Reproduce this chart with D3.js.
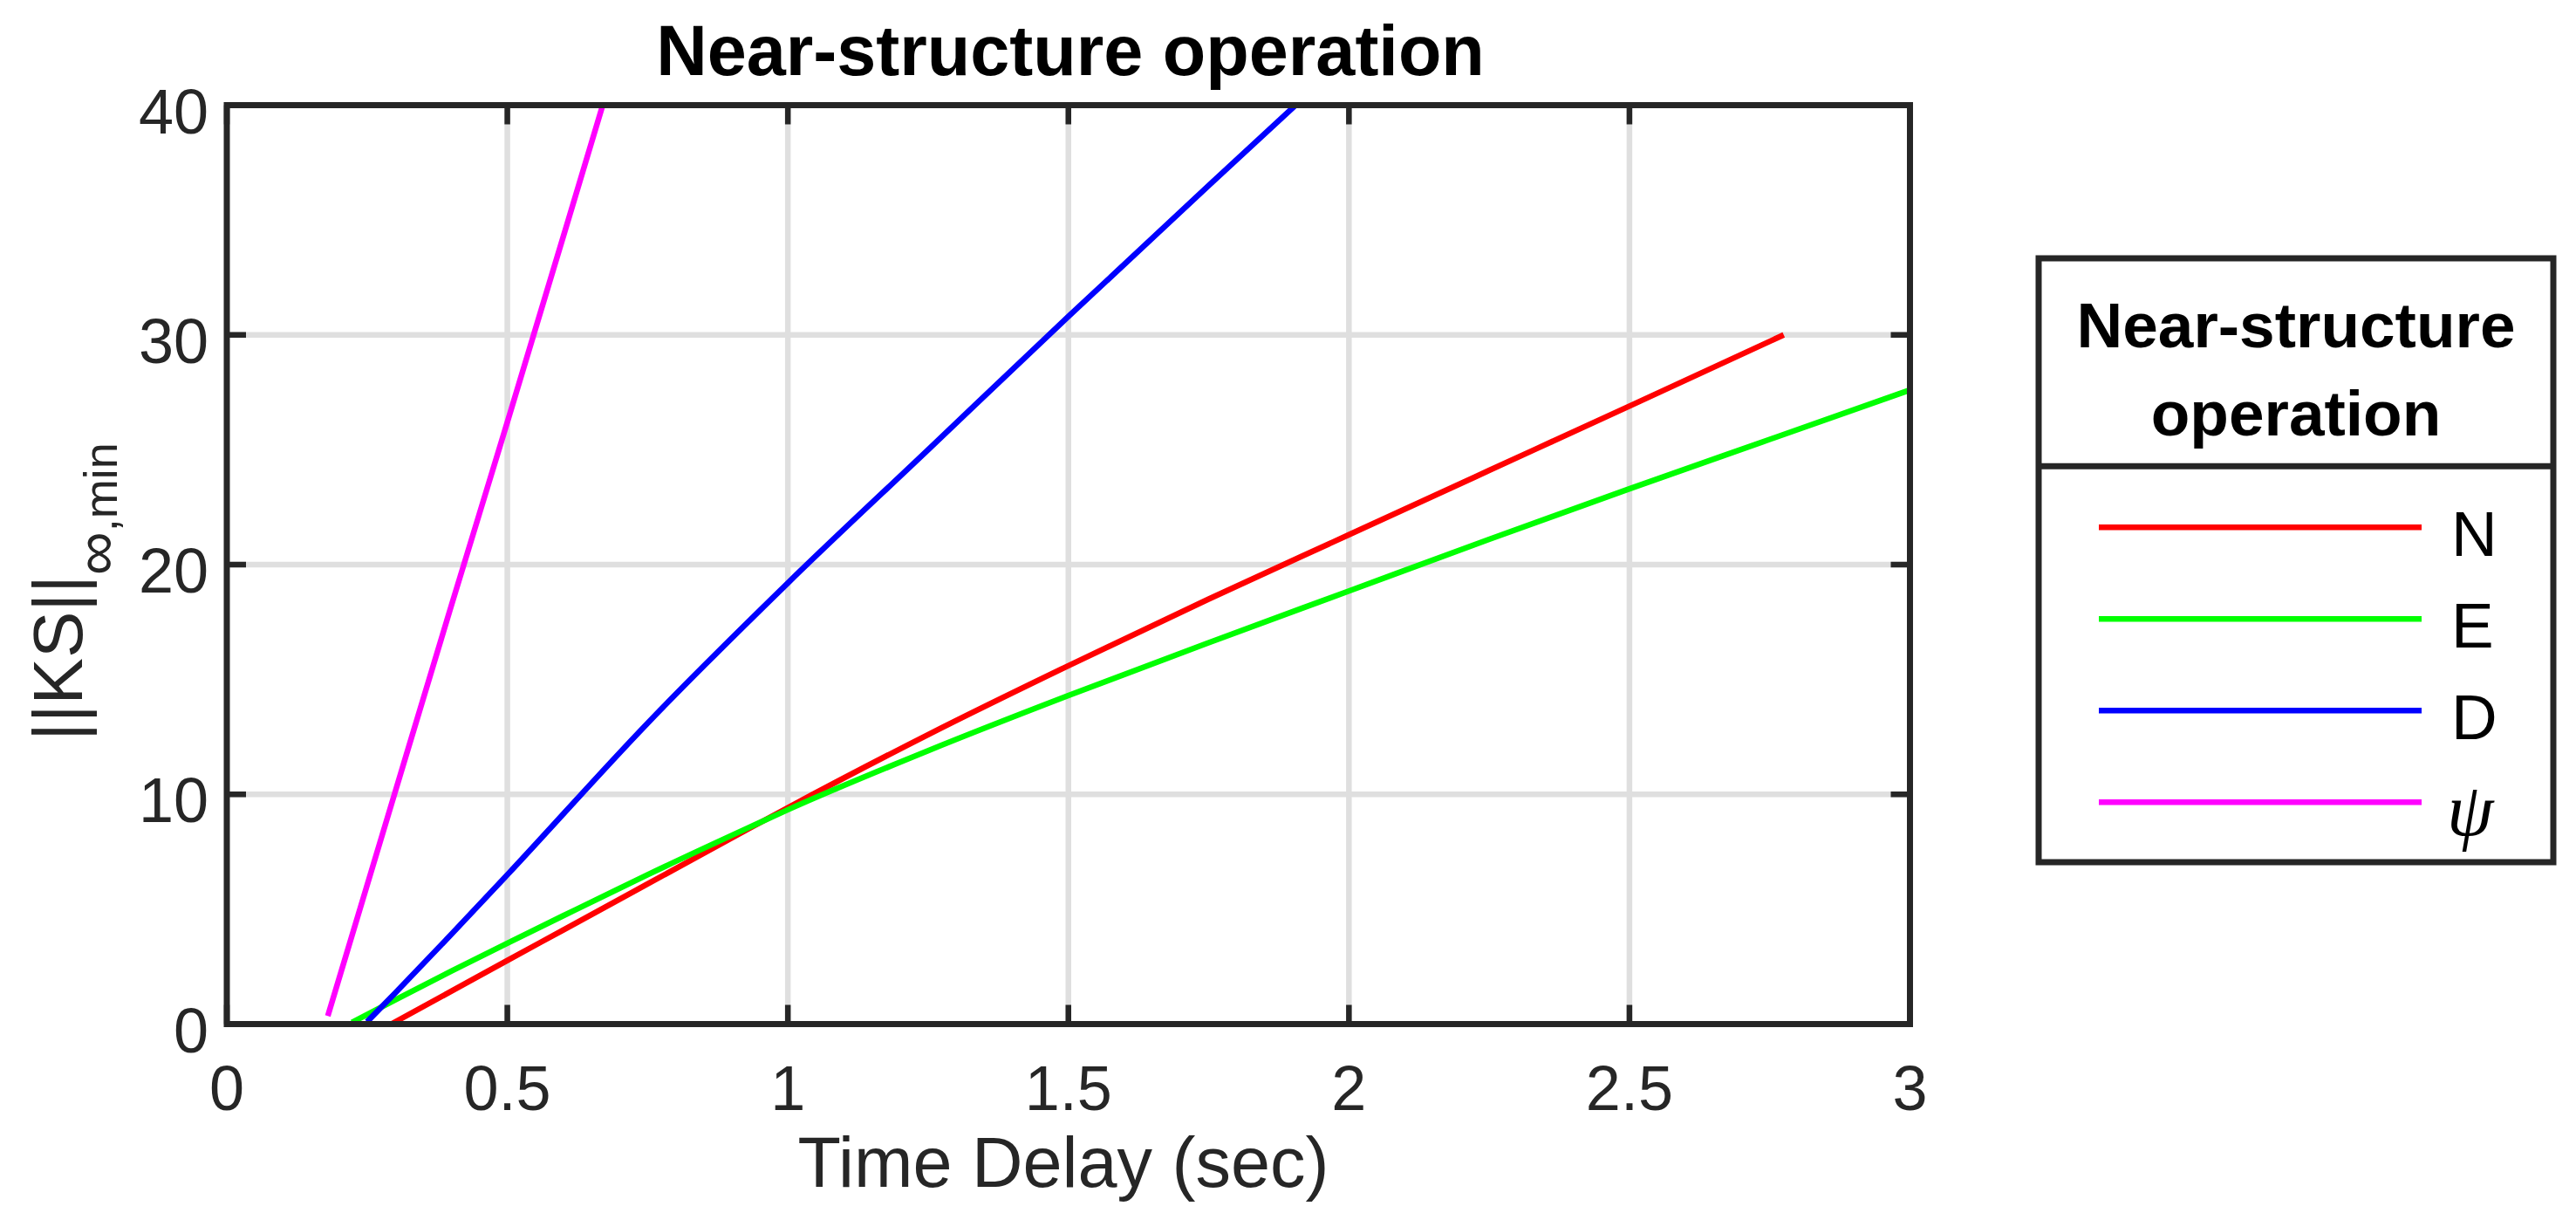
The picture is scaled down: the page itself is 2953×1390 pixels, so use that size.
<!DOCTYPE html>
<html><head><meta charset="utf-8">
<script src="https://cdn.jsdelivr.net/npm/d3@7"></script>
<style>body{margin:0;background:#fff}svg{display:block}</style>
</head><body>
<svg id="chart" width="2953" height="1390"></svg>
<script>
// ---- data ----
const xTicks = [0, 0.5, 1, 1.5, 2, 2.5, 3];
const xTickLabels = ["0", "0.5", "1", "1.5", "2", "2.5", "3"];
const yTicks = [0, 10, 20, 30, 40];
const yTickLabels = ["0", "10", "20", "30", "40"];
const seriesNames = ["N", "E", "D", "ψ"];
const seriesColors = ["#ff0000", "#00ff00", "#0000ff", "#ff00ff"];

const nTime  = [0.293, 0.4, 0.5, 0.6, 0.75, 0.93, 1.0, 1.25, 1.5, 1.75, 2.0, 2.25, 2.5, 2.775];
const nValue = [0.0, 1.43, 2.77, 4.1, 6.1, 8.5, 9.42, 12.6, 15.6, 18.5, 21.3, 24.1, 26.9, 30.0];

const eTime  = [0.223, 0.3, 0.4, 0.5, 0.6, 0.75, 0.93, 1.0, 1.25, 1.5, 1.75, 2.0, 2.25, 2.5, 2.75, 3.0];
const eValue = [0.07, 1.05, 2.3, 3.52, 4.72, 6.5, 8.55, 9.33, 11.9, 14.3, 16.6, 18.85, 21.1, 23.3, 25.45, 27.6];

const dTime  = [0.25, 0.3, 0.4, 0.5, 0.75, 1.0, 1.25, 1.5, 1.75, 1.905];
const dValue = [0.1, 1.35, 3.9, 6.5, 13.1, 19.2, 25.0, 30.8, 36.5, 40.0];

const psiTime  = [0.18, 0.3, 0.4, 0.5, 0.6, 0.67];
const psiValue = [0.35, 10.1, 18.2, 26.2, 34.3, 40.0];

const titleText = "Near-structure operation";
const xLabelText = "Time Delay (sec)";
const legendTitleLines = ["Near-structure", "operation"];

// ---- layout ----
const svg = d3.select("#chart");
const L = 260, R = 2189.5, T = 120.5, B = 1173.5;
const x = d3.scaleLinear().domain([0, 3]).range([L, R]);
const y = d3.scaleLinear().domain([0, 40]).range([B, T]);
const axisColor = "#262626";
const font = "'Liberation Sans', Arial, Helvetica, sans-serif";

// grid
const grid = svg.append("g");
xTicks.slice(1, -1).forEach(t => grid.append("line")
  .attr("x1", x(t)).attr("x2", x(t)).attr("y1", T).attr("y2", B)
  .attr("stroke", "#dfdfdf").attr("stroke-width", 6.5));
yTicks.slice(1, -1).forEach(t => grid.append("line")
  .attr("y1", y(t)).attr("y2", y(t)).attr("x1", L).attr("x2", R)
  .attr("stroke", "#dfdfdf").attr("stroke-width", 6.5));

// ticks (inside, all four sides)
const tickLen = 22;
const ticks = svg.append("g").attr("stroke", axisColor).attr("stroke-width", 6.5);
xTicks.forEach(t => {
  ticks.append("line").attr("x1", x(t)).attr("x2", x(t)).attr("y1", B).attr("y2", B - tickLen);
  ticks.append("line").attr("x1", x(t)).attr("x2", x(t)).attr("y1", T).attr("y2", T + tickLen);
});
yTicks.forEach(t => {
  ticks.append("line").attr("y1", y(t)).attr("y2", y(t)).attr("x1", L).attr("x2", L + tickLen);
  ticks.append("line").attr("y1", y(t)).attr("y2", y(t)).attr("x1", R).attr("x2", R - tickLen);
});

// clip
svg.append("defs").append("clipPath").attr("id", "plotclip")
  .append("rect").attr("x", L).attr("y", T).attr("width", R - L).attr("height", B - T);

const series = [
  {t: nTime, v: nValue},
  {t: eTime, v: eValue},
  {t: dTime, v: dValue},
  {t: psiTime, v: psiValue}
];
const line = d3.line().x(d => x(d[0])).y(d => y(d[1])).curve(d3.curveMonotoneX);
const lines = svg.append("g").attr("clip-path", "url(#plotclip)");
series.forEach((s, i) => {
  lines.append("path")
    .attr("d", line(s.t.map((t, j) => [t, s.v[j]])))
    .attr("fill", "none").attr("stroke", seriesColors[i])
    .attr("stroke-width", 6.5).attr("stroke-linejoin", "round").attr("stroke-linecap", "butt");
});

// axes box
svg.append("rect").attr("x", L).attr("y", T).attr("width", R - L).attr("height", B - T)
  .attr("fill", "none").attr("stroke", axisColor).attr("stroke-width", 7);

// tick labels
const tl = svg.append("g").attr("font-family", font).attr("font-size", 72).attr("fill", axisColor);
xTicks.forEach((t, i) => tl.append("text").attr("x", x(t)).attr("y", 1272)
  .attr("text-anchor", "middle").text(xTickLabels[i]));
yTicks.forEach((t, i) => tl.append("text").attr("x", 239).attr("y", y(t) + 32)
  .attr("text-anchor", "end").text(yTickLabels[i]));

// title
svg.append("text").attr("x", 1227).attr("y", 86).attr("text-anchor", "middle")
  .attr("font-family", font).attr("font-size", 81).attr("font-weight", "bold")
  .attr("fill", "#000").text(titleText);

// x label
svg.append("text").attr("x", 1219).attr("y", 1360).attr("text-anchor", "middle")
  .attr("font-family", font).attr("font-size", 81).attr("fill", axisColor).text(xLabelText);

// y label with subscript
const yl = svg.append("text").attr("transform", "translate(94,849) rotate(-90)")
  .attr("font-family", font).attr("font-size", 80).attr("fill", axisColor);
yl.append("tspan").text("||KS||");
yl.append("tspan").attr("font-size", 70).attr("dy", 40).text("∞");
yl.append("tspan").attr("font-size", 54).text(",min");

// legend
const lg = svg.append("g");
const LX0 = 2337, LX1 = 2927, LY0 = 296, LY1 = 988, LSEP = 534.3;
lg.append("rect").attr("x", LX0).attr("y", LY0).attr("width", LX1 - LX0).attr("height", LY1 - LY0)
  .attr("fill", "#fff").attr("stroke", axisColor).attr("stroke-width", 7);
lg.append("line").attr("x1", LX0).attr("x2", LX1).attr("y1", LSEP).attr("y2", LSEP)
  .attr("stroke", axisColor).attr("stroke-width", 7);
legendTitleLines.forEach((s, i) => lg.append("text")
  .attr("x", (LX0 + LX1) / 2).attr("y", 397.7 + i * 100.8).attr("text-anchor", "middle")
  .attr("font-family", font).attr("font-size", 73).attr("font-weight", "bold").attr("fill", "#000").text(s));
const entryY = [604.3, 709.3, 814.3, 919.3];
seriesNames.forEach((name, i) => {
  lg.append("line").attr("x1", 2406).attr("x2", 2776).attr("y1", entryY[i]).attr("y2", entryY[i])
    .attr("stroke", seriesColors[i]).attr("stroke-width", 6.5);
  const isPsi = name === "ψ";
  lg.append("text").attr("x", isPsi ? 2805 : 2810).attr("y", entryY[i] + (isPsi ? 38 : 32.4))
    .attr("font-family", isPsi ? "'Liberation Serif', 'DejaVu Serif', serif" : font)
    .attr("font-style", isPsi ? "italic" : "normal")
    .attr("font-size", isPsi ? 86 : 73).attr("fill", "#000").text(name);
});
</script>
</body></html>
